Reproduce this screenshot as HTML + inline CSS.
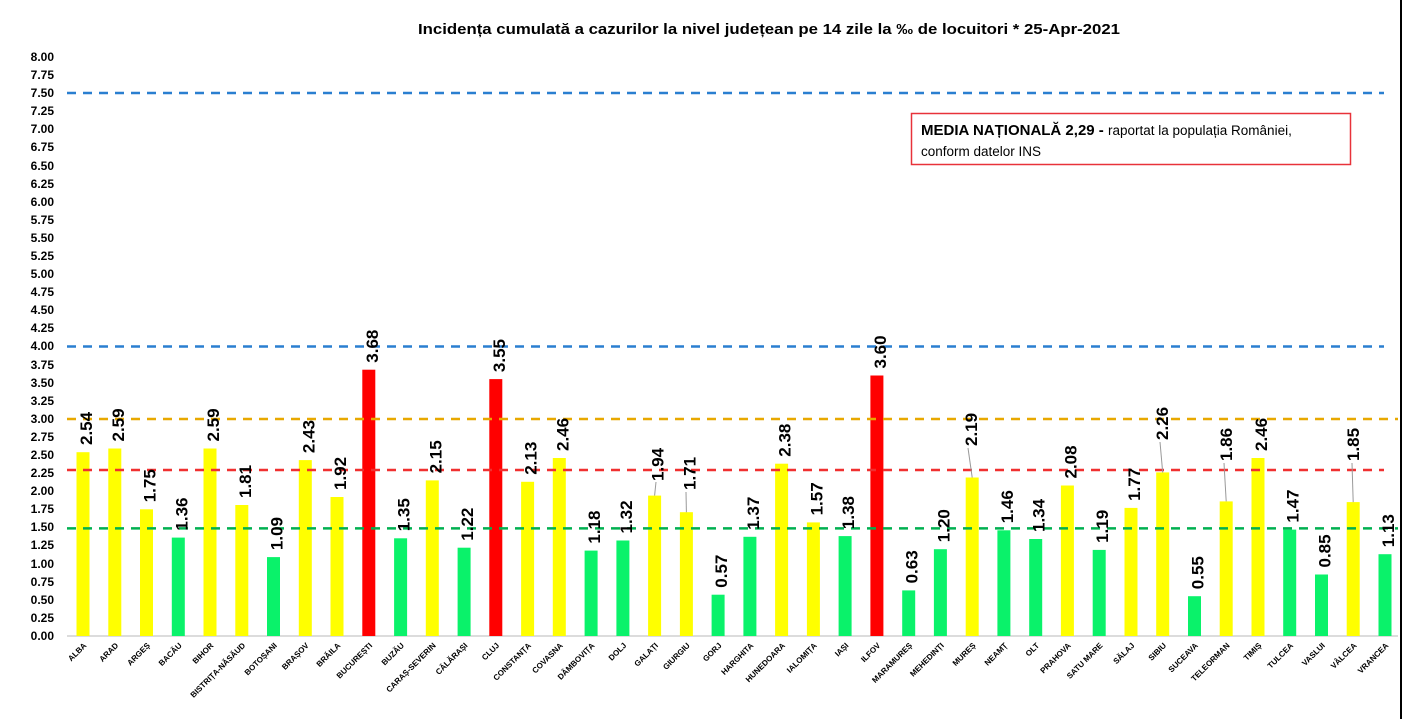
<!DOCTYPE html>
<html><head><meta charset="utf-8"><style>
body{margin:0;background:#fff}
svg{display:block}
text{font-family:"Liberation Sans",sans-serif}
.yt{font-size:12px;font-weight:bold;text-anchor:end}
.v{font-size:17px;font-weight:bold}
.c{font-size:8px;font-weight:bold;text-anchor:end}
</style></head><body>
<svg width="1413" height="719" viewBox="0 0 1413 719" xmlns="http://www.w3.org/2000/svg">
<rect width="1413" height="719" fill="#fff"/>
<line x1="1401" y1="0" x2="1401" y2="719" stroke="#000" stroke-width="2"/>
<text x="769" y="34" font-size="15" font-weight="bold" text-anchor="middle" textLength="702" lengthAdjust="spacingAndGlyphs">Incidența cumulată a cazurilor la nivel județean pe 14 zile la ‰ de locuitori *   25-Apr-2021</text>
<g class="yt">
<text x="54" y="640">0.00</text><text x="54" y="622">0.25</text><text x="54" y="604">0.50</text><text x="54" y="586">0.75</text>
<text x="54" y="568">1.00</text><text x="54" y="549">1.25</text><text x="54" y="531">1.50</text><text x="54" y="513">1.75</text>
<text x="54" y="495">2.00</text><text x="54" y="477">2.25</text><text x="54" y="459">2.50</text><text x="54" y="441">2.75</text>
<text x="54" y="423">3.00</text><text x="54" y="405">3.25</text><text x="54" y="387">3.50</text><text x="54" y="369">3.75</text>
<text x="54" y="350">4.00</text><text x="54" y="332">4.25</text><text x="54" y="314">4.50</text><text x="54" y="296">4.75</text>
<text x="54" y="278">5.00</text><text x="54" y="260">5.25</text><text x="54" y="242">5.50</text><text x="54" y="224">5.75</text>
<text x="54" y="206">6.00</text><text x="54" y="188">6.25</text><text x="54" y="170">6.50</text><text x="54" y="151">6.75</text>
<text x="54" y="133">7.00</text><text x="54" y="115">7.25</text><text x="54" y="97">7.50</text><text x="54" y="79">7.75</text>
<text x="54" y="61">8.00</text>
</g>
<line x1="67" y1="636" x2="1398" y2="636" stroke="#d0d0d0" stroke-width="1.5"/>
<!-- bars -->
<g>
<rect x="76.5" y="452.2" width="13" height="183.8" fill="#ffff00"/>
<rect x="108.3" y="448.5" width="13" height="187.5" fill="#ffff00"/>
<rect x="140" y="509.3" width="13" height="126.7" fill="#ffff00"/>
<rect x="171.8" y="537.6" width="13" height="98.4" fill="#0af26a"/>
<rect x="203.5" y="448.5" width="13" height="187.5" fill="#ffff00"/>
<rect x="235.3" y="505" width="13" height="131" fill="#ffff00"/>
<rect x="267" y="557.1" width="13" height="78.9" fill="#0af26a"/>
<rect x="298.8" y="460.1" width="13" height="175.9" fill="#ffff00"/>
<rect x="330.5" y="497" width="13" height="139" fill="#ffff00"/>
<rect x="362.3" y="369.7" width="13" height="266.3" fill="#ff0000"/>
<rect x="394.1" y="538.3" width="13" height="97.7" fill="#0af26a"/>
<rect x="425.8" y="480.4" width="13" height="155.6" fill="#ffff00"/>
<rect x="457.6" y="547.7" width="13" height="88.3" fill="#0af26a"/>
<rect x="489.3" y="379.1" width="13" height="256.9" fill="#ff0000"/>
<rect x="521.1" y="481.8" width="13" height="154.2" fill="#ffff00"/>
<rect x="552.8" y="458" width="13" height="178" fill="#ffff00"/>
<rect x="584.6" y="550.6" width="13" height="85.4" fill="#0af26a"/>
<rect x="616.4" y="540.5" width="13" height="95.5" fill="#0af26a"/>
<rect x="648.1" y="495.6" width="13" height="140.4" fill="#ffff00"/>
<rect x="679.9" y="512.2" width="13" height="123.8" fill="#ffff00"/>
<rect x="711.6" y="594.7" width="13" height="41.3" fill="#0af26a"/>
<rect x="743.4" y="536.8" width="13" height="99.2" fill="#0af26a"/>
<rect x="775.1" y="463.7" width="13" height="172.3" fill="#ffff00"/>
<rect x="806.9" y="522.4" width="13" height="113.6" fill="#ffff00"/>
<rect x="838.6" y="536.1" width="13" height="99.9" fill="#0af26a"/>
<rect x="870.4" y="375.5" width="13" height="260.5" fill="#ff0000"/>
<rect x="902.2" y="590.4" width="13" height="45.6" fill="#0af26a"/>
<rect x="933.9" y="549.2" width="13" height="86.8" fill="#0af26a"/>
<rect x="965.7" y="477.5" width="13" height="158.5" fill="#ffff00"/>
<rect x="997.4" y="530.3" width="13" height="105.7" fill="#0af26a"/>
<rect x="1029.2" y="539" width="13" height="97" fill="#0af26a"/>
<rect x="1060.9" y="485.5" width="13" height="150.5" fill="#ffff00"/>
<rect x="1092.7" y="549.9" width="13" height="86.1" fill="#0af26a"/>
<rect x="1124.5" y="507.9" width="13" height="128.1" fill="#ffff00"/>
<rect x="1156.2" y="472.4" width="13" height="163.6" fill="#ffff00"/>
<rect x="1188" y="596.2" width="13" height="39.8" fill="#0af26a"/>
<rect x="1219.7" y="501.4" width="13" height="134.6" fill="#ffff00"/>
<rect x="1251.5" y="458" width="13" height="178" fill="#ffff00"/>
<rect x="1283.2" y="529.6" width="13" height="106.4" fill="#0af26a"/>
<rect x="1315" y="574.5" width="13" height="61.5" fill="#0af26a"/>
<rect x="1346.7" y="502.1" width="13" height="133.9" fill="#ffff00"/>
<rect x="1378.5" y="554.2" width="13" height="81.8" fill="#0af26a"/>
</g>
<!-- reference lines -->
<g fill="none" stroke-width="2.5" stroke-dasharray="9,7">
<line x1="67" y1="93" x2="1384" y2="93" stroke="#2a7fd0"/>
<line x1="67" y1="346.5" x2="1384" y2="346.5" stroke="#2a7fd0"/>
<line x1="67" y1="419" x2="1398" y2="419" stroke="#e8a800"/>
<line x1="67" y1="470" x2="1384" y2="470" stroke="#f03030"/>
<line x1="67" y1="528.4" x2="1398" y2="528.4" stroke="#00b050"/>
</g>
<!-- leader lines -->
<g stroke="#999" stroke-width="1">
<line x1="656" y1="482" x2="654.6" y2="495.6"/>
<line x1="686" y1="492" x2="686.4" y2="512.2"/>
<line x1="968" y1="448" x2="972.2" y2="477.5"/>
<line x1="1160" y1="442" x2="1162.7" y2="472.4"/>
<line x1="1224" y1="463" x2="1226.2" y2="501.4"/>
<line x1="1352" y1="463" x2="1353.2" y2="502.1"/>
</g>
<!-- value labels -->
<g class="v">
<text transform="translate(92,445) rotate(-90)">2.54</text>
<text transform="translate(123.8,441.5) rotate(-90)">2.59</text>
<text transform="translate(155.5,502.3) rotate(-90)">1.75</text>
<text transform="translate(187.3,530.6) rotate(-90)">1.36</text>
<text transform="translate(219,441.5) rotate(-90)">2.59</text>
<text transform="translate(250.8,498) rotate(-90)">1.81</text>
<text transform="translate(282.5,550.1) rotate(-90)">1.09</text>
<text transform="translate(314.3,453.1) rotate(-90)">2.43</text>
<text transform="translate(346,490) rotate(-90)">1.92</text>
<text transform="translate(377.8,362.7) rotate(-90)">3.68</text>
<text transform="translate(409.6,531.3) rotate(-90)">1.35</text>
<text transform="translate(441.3,473.4) rotate(-90)">2.15</text>
<text transform="translate(473.1,540.7) rotate(-90)">1.22</text>
<text transform="translate(504.8,372.1) rotate(-90)">3.55</text>
<text transform="translate(536.6,474.8) rotate(-90)">2.13</text>
<text transform="translate(568.3,451) rotate(-90)">2.46</text>
<text transform="translate(600.1,543.6) rotate(-90)">1.18</text>
<text transform="translate(631.9,533.5) rotate(-90)">1.32</text>
<text transform="translate(663.6,481) rotate(-90)">1.94</text>
<text transform="translate(695.4,490) rotate(-90)">1.71</text>
<text transform="translate(727.1,587.7) rotate(-90)">0.57</text>
<text transform="translate(758.9,529.8) rotate(-90)">1.37</text>
<text transform="translate(790.6,456.7) rotate(-90)">2.38</text>
<text transform="translate(822.4,515.4) rotate(-90)">1.57</text>
<text transform="translate(854.1,529.1) rotate(-90)">1.38</text>
<text transform="translate(885.9,368.5) rotate(-90)">3.60</text>
<text transform="translate(917.7,583.4) rotate(-90)">0.63</text>
<text transform="translate(949.4,542.2) rotate(-90)">1.20</text>
<text transform="translate(977,446) rotate(-90)">2.19</text>
<text transform="translate(1012.9,523.3) rotate(-90)">1.46</text>
<text transform="translate(1044.7,532) rotate(-90)">1.34</text>
<text transform="translate(1076.4,478.5) rotate(-90)">2.08</text>
<text transform="translate(1108.2,542.9) rotate(-90)">1.19</text>
<text transform="translate(1140,500.9) rotate(-90)">1.77</text>
<text transform="translate(1168,440) rotate(-90)">2.26</text>
<text transform="translate(1203.5,589.2) rotate(-90)">0.55</text>
<text transform="translate(1232,461) rotate(-90)">1.86</text>
<text transform="translate(1267,451) rotate(-90)">2.46</text>
<text transform="translate(1298.7,522.6) rotate(-90)">1.47</text>
<text transform="translate(1330.5,567.5) rotate(-90)">0.85</text>
<text transform="translate(1359,461) rotate(-90)">1.85</text>
<text transform="translate(1394,547.2) rotate(-90)">1.13</text>
</g>
<!-- category labels -->
<g class="c">
<text transform="translate(87,646) rotate(-45)">ALBA</text>
<text transform="translate(118.8,646) rotate(-45)">ARAD</text>
<text transform="translate(150.5,646) rotate(-45)">ARGEȘ</text>
<text transform="translate(182.3,646) rotate(-45)">BACĂU</text>
<text transform="translate(214,646) rotate(-45)">BIHOR</text>
<text transform="translate(245.8,646) rotate(-45)">BISTRIȚA-NĂSĂUD</text>
<text transform="translate(277.5,646) rotate(-45)">BOTOȘANI</text>
<text transform="translate(309.3,646) rotate(-45)">BRAȘOV</text>
<text transform="translate(341,646) rotate(-45)">BRĂILA</text>
<text transform="translate(372.8,646) rotate(-45)">BUCUREȘTI</text>
<text transform="translate(404.6,646) rotate(-45)">BUZĂU</text>
<text transform="translate(436.3,646) rotate(-45)">CARAȘ-SEVERIN</text>
<text transform="translate(468.1,646) rotate(-45)">CĂLĂRAȘI</text>
<text transform="translate(499.8,646) rotate(-45)">CLUJ</text>
<text transform="translate(531.6,646) rotate(-45)">CONSTANȚA</text>
<text transform="translate(563.3,646) rotate(-45)">COVASNA</text>
<text transform="translate(595.1,646) rotate(-45)">DÂMBOVIȚA</text>
<text transform="translate(626.9,646) rotate(-45)">DOLJ</text>
<text transform="translate(658.6,646) rotate(-45)">GALAȚI</text>
<text transform="translate(690.4,646) rotate(-45)">GIURGIU</text>
<text transform="translate(722.1,646) rotate(-45)">GORJ</text>
<text transform="translate(753.9,646) rotate(-45)">HARGHITA</text>
<text transform="translate(785.6,646) rotate(-45)">HUNEDOARA</text>
<text transform="translate(817.4,646) rotate(-45)">IALOMIȚA</text>
<text transform="translate(849.1,646) rotate(-45)">IAȘI</text>
<text transform="translate(880.9,646) rotate(-45)">ILFOV</text>
<text transform="translate(912.7,646) rotate(-45)">MARAMUREȘ</text>
<text transform="translate(944.4,646) rotate(-45)">MEHEDINȚI</text>
<text transform="translate(976.2,646) rotate(-45)">MUREȘ</text>
<text transform="translate(1007.9,646) rotate(-45)">NEAMȚ</text>
<text transform="translate(1039.7,646) rotate(-45)">OLT</text>
<text transform="translate(1071.4,646) rotate(-45)">PRAHOVA</text>
<text transform="translate(1103.2,646) rotate(-45)">SATU MARE</text>
<text transform="translate(1135,646) rotate(-45)">SĂLAJ</text>
<text transform="translate(1166.7,646) rotate(-45)">SIBIU</text>
<text transform="translate(1198.5,646) rotate(-45)">SUCEAVA</text>
<text transform="translate(1230.2,646) rotate(-45)">TELEORMAN</text>
<text transform="translate(1262,646) rotate(-45)">TIMIȘ</text>
<text transform="translate(1293.7,646) rotate(-45)">TULCEA</text>
<text transform="translate(1325.5,646) rotate(-45)">VASLUI</text>
<text transform="translate(1357.2,646) rotate(-45)">VÂLCEA</text>
<text transform="translate(1389,646) rotate(-45)">VRANCEA</text>
</g>
<!-- legend box -->
<rect x="911.5" y="113.5" width="439" height="51" fill="#fff" stroke="#e8323a" stroke-width="1.5"/>
<text x="921" y="135" font-size="15"><tspan font-weight="bold">MEDIA NAȚIONALĂ  2,29 - </tspan><tspan font-size="13.5">raportat la populația României,</tspan></text>
<text x="921" y="156" font-size="13.5">conform datelor INS</text>
</svg>
</body></html>
